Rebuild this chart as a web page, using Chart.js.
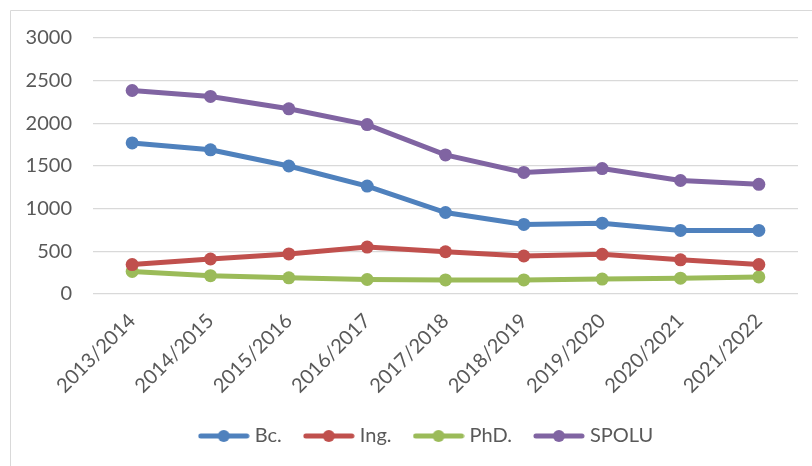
<!DOCTYPE html>
<html>
<head>
<meta charset="utf-8">
<script src="https://cdn.jsdelivr.net/npm/chart.js@4"></script>
<style>
    body { margin: 0; background: #fff; }
    #wrap { width: 812px; height: 466px; }
</style>
</head>
<body>
<div id="wrap"><canvas id="studentsChart" width="812" height="466"></canvas></div>
<script>
const years = ["2013/2014", "2014/2015", "2015/2016", "2016/2017", "2017/2018", "2018/2019", "2019/2020", "2020/2021", "2021/2022"];
const bc = [1770, 1690, 1500, 1265, 955, 815, 830, 745, 745];
const ing = [345, 410, 470, 550, 495, 445, 465, 400, 345];
const phd = [265, 215, 190, 170, 165, 165, 175, 185, 200];
const spolu = [2385, 2315, 2170, 1985, 1630, 1425, 1470, 1330, 1285];
const yTicks = [0, 500, 1000, 1500, 2000, 2500, 3000];

const textColor = "#595959";
const fontFamily = "Lato, 'Liberation Sans', sans-serif";

// small line+dot picture for each legend entry
const legendIcon = (color) => {
    const c = document.createElement("canvas");
    c.width = 52;
    c.height = 14;
    const g = c.getContext("2d");
    g.strokeStyle = color;
    g.lineWidth = 5;
    g.lineCap = "round";
    g.beginPath();
    g.moveTo(3, 7);
    g.lineTo(49, 7);
    g.stroke();
    g.fillStyle = color;
    g.beginPath();
    g.arc(26, 7, 6, 0, Math.PI * 2);
    g.fill();
    return c;
};

const makeSet = (label, data, color) => ({
    label: label,
    data: data,
    borderColor: color,
    backgroundColor: color,
    borderWidth: 5,
    pointRadius: 6.5,
    pointBorderWidth: 0,
    pointHoverRadius: 6.5,
    tension: 0,
    icon: legendIcon(color)
});

// light frame of the chart area (left and top edges only show)
const framePlugin = {
    id: "frame",
    afterLayout(chart) {
        // legend sits a bit right of centre in the original
        chart.legend.left += 29;
        chart.legend.right += 29;
    },
    beforeDraw(chart) {
        const ctx = chart.ctx;
        ctx.save();
        ctx.strokeStyle = "#D9D9D9";
        ctx.lineWidth = 1;
        ctx.beginPath();
        ctx.moveTo(10.5, 466);
        ctx.lineTo(10.5, 10.5);
        ctx.lineTo(812, 10.5);
        ctx.stroke();
        ctx.restore();
    }
};

const ctx = document.getElementById("studentsChart").getContext("2d");

new Chart(ctx, {
    type: "line",
    data: {
        labels: years,
        datasets: [
            makeSet("Bc.", bc, "#4F81BD"),
            makeSet("Ing.", ing, "#C0504D"),
            makeSet("PhD.", phd, "#9BBB59"),
            makeSet("SPOLU", spolu, "#8064A2")
        ]
    },
    options: {
        responsive: false,
        animation: false,
        layout: { padding: { left: 0, right: 14, top: 38, bottom: 10 } },
        plugins: {
            tooltip: { enabled: false },
            legend: {
                position: "bottom",
                labels: {
                    usePointStyle: true,
                    pointStyleWidth: 42,
                    padding: 26,
                    color: textColor,
                    font: { family: fontFamily, size: 20 },
                    generateLabels(chart) {
                        return chart.data.datasets.map((ds, i) => ({
                            text: ds.label,
                            pointStyle: ds.icon,
                            fillStyle: ds.borderColor,
                            strokeStyle: ds.borderColor,
                            lineWidth: 0,
                            fontColor: textColor,
                            hidden: false,
                            datasetIndex: i
                        }));
                    }
                }
            }
        },
        scales: {
            x: {
                offset: true,
                grid: { display: false, drawTicks: false },
                border: { display: false },
                ticks: {
                    color: textColor,
                    font: { family: fontFamily, size: 20 },
                    minRotation: 45,
                    maxRotation: 45,
                    padding: 15,
                    autoSkip: false
                },
                afterFit(scale) { scale.height = 106; }
            },
            y: {
                min: 0,
                max: 3000,
                grid: { color: "#D9D9D9", lineWidth: 1.3, drawTicks: false },
                border: { display: false },
                afterBuildTicks(scale) { scale.ticks = yTicks.map(v => ({ value: v })); },
                ticks: {
                    color: textColor,
                    font: { family: fontFamily, size: 20 },
                    padding: 21,
                    callback: (value) => String(value)
                },
                afterFit(scale) { scale.width = 93; }
            }
        }
    },
    plugins: [framePlugin]
});
</script>
</body>
</html>
